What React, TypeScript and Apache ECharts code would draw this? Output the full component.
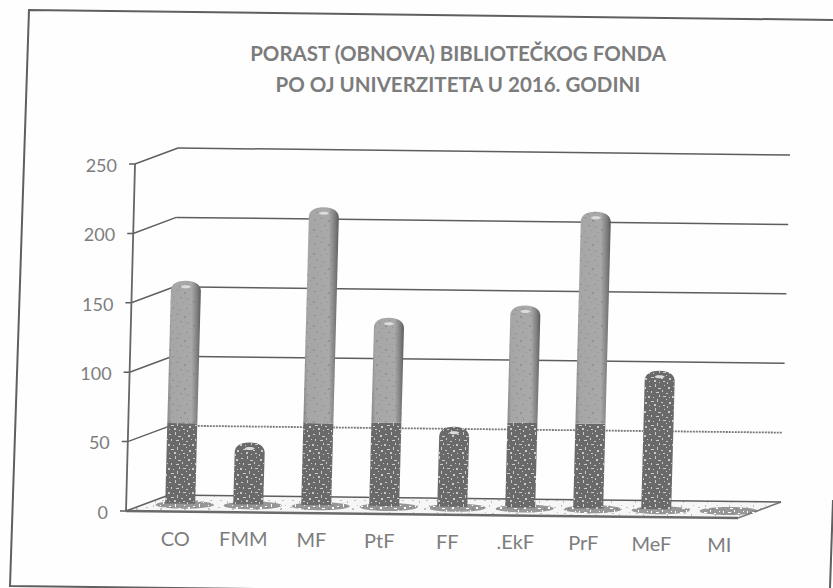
import React, { useEffect, useRef } from "react";
import * as echarts from "echarts";

const titleLines = ["PORAST (OBNOVA) BIBLIOTEČKOG FONDA", "PO OJ UNIVERZITETA U 2016. GODINI"];
const categories = ["CO", "FMM", "MF", "PtF", "FF", ".EkF", "PrF", "MeF", "MI"];
const darkValues = [58, 41, 59, 60, 54, 61, 61, 96, 0];
const lightValues = [99, 0, 152, 72, 0, 81, 149, 0, 0];
const yTicks = [0, 50, 100, 150, 200, 250];

const W = 833, H = 588;
const GL = 126, GR = 738, GT = 164, GB = 511;
const DX = 43, DY = -16;
const BAR_W = 30, CAP = 5, BAR_SHIFT = -1.5;
const INK = "#7d7d7d";
const FONT = "Lato, 'Open Sans', sans-serif";

// the scanned page is slightly skewed
const skew = (x: number, y: number): [number, number] => [x + (GB - y) * 0.026, y + (x - GL) * 0.0115];

const tile = (specks: string, color: string, size = 24) =>
  "data:image/svg+xml;utf8," +
  encodeURIComponent(
    `<svg xmlns="http://www.w3.org/2000/svg" width="${size}" height="${size}"><g fill="${color}">` +
      specks
        .trim()
        .split(/\s+/)
        .map((s) => {
          const [x, y, w, h] = s.split(",");
          return `<rect x="${x}" y="${y}" width="${w}" height="${h}"/>`;
        })
        .join("") +
      `</g></svg>`
  );
const DARK_SPECKS = "1,2,2,1 7,0,1,3 10,4,3,1 16,1,1,1 20,3,2,2 3,7,1,2 8,8,3,1 14,6,1,2 18,9,2,1 23,7,1,1 0,12,2,2 5,13,1,1 11,11,1,2 15,12,3,1 21,13,1,1 3,17,3,1 9,15,1,3 13,18,2,1 18,15,1,1 21,18,2,2 1,21,1,1 6,20,2,2 11,22,1,1 15,21,2,1 19,22,1,2";
const LIGHT_SPECKS = "2,3,2,1 9,1,1,2 16,4,2,2 21,1,1,1 5,8,1,1 12,9,2,1 19,10,1,2 1,13,2,2 8,15,1,1 15,14,1,1 22,16,1,1 4,20,2,1 11,21,1,2 18,20,2,1";
const darkTile = tile(DARK_SPECKS, "#e2e2e2");
const lightTile = tile(LIGHT_SPECKS, "#7e7e7e");
const floorTile = tile(LIGHT_SPECKS, "#8a8a8a");
const shadowTile = tile(DARK_SPECKS, "#ffffff");

function App() {
  const ref = useRef<HTMLDivElement>(null);
  useEffect(() => {
    document.body.style.margin = "0";
    const chart = echarts.init(ref.current!, undefined, { renderer: "svg" });

    const segment = (api: any, cat: number, low: number, high: number, rounded: boolean, kind: "dark" | "light") => {
      const base = api.coord([cat, low]);
      const top = api.coord([cat, high]);
      const cx = base[0] + DX / 2 + BAR_SHIFT;
      const ly = base[1] + DY / 2;
      const hy = top[1] + DY / 2;
      const bl = skew(cx - BAR_W / 2, ly);
      const br = skew(cx + BAR_W / 2, ly);
      const tl = skew(cx - BAR_W / 2, hy);
      const tr = skew(cx + BAR_W / 2, hy);
      const tc = skew(cx, hy);
      const d = rounded
        ? `M${bl[0]} ${bl[1]}L${tl[0]} ${tl[1] + CAP}C${tl[0]} ${tl[1]} ${tl[0] + 4} ${tc[1] - CAP} ${tc[0]} ${tc[1] - CAP}C${tr[0] - 4} ${tc[1] - CAP} ${tr[0]} ${tr[1]} ${tr[0]} ${tr[1] + CAP}L${br[0]} ${br[1]}Z`
        : `M${bl[0]} ${bl[1]}L${tl[0]} ${tl[1]}L${tr[0]} ${tr[1]}L${br[0]} ${br[1]}Z`;
      const fill =
        kind === "dark"
          ? "#6a6a6a"
          : new echarts.graphic.LinearGradient(0, 0, 1, 0, [
              { offset: 0, color: "#8a8a8a" },
              { offset: 0.12, color: "#a6a6a6" },
              { offset: 0.72, color: "#a9a9a9" },
              { offset: 0.9, color: "#7c7c7c" },
              { offset: 1, color: "#5a5a5a" },
            ]);
      const pathShape = { pathData: d };
      const children: any[] = [
        { type: "path", shape: pathShape, style: { fill } },
        {
          type: "path",
          shape: pathShape,
          style: {
            fill: { image: kind === "dark" ? darkTile : lightTile, repeat: "repeat", imageWidth: 24, imageHeight: 24 },
            opacity: kind === "dark" ? 0.8 : 0.5,
          },
        },
      ];
      if (rounded) {
        children.push({
          type: "ellipse",
          shape: { cx: tc[0], cy: tc[1] + 1, rx: 5, ry: 1.5 },
          style: { fill: "#dcdcdc" },
        });
      }
      return { type: "group", children };
    };

    const option: any = {
      animation: false,
      backgroundColor: "#fefefe",
      title: {
        text: titleLines.join("\n"),
        left: 453,
        top: 32,
        textAlign: "center",
        textStyle: { fontFamily: FONT, fontSize: 20.5, fontWeight: "bold", color: "#7c7c7c", lineHeight: 31 },
      },
      grid: { left: GL, top: GT, width: GR - GL, height: GB - GT },
      xAxis: {
        type: "category",
        data: categories,
        axisLine: { show: false },
        axisTick: { show: false },
        axisLabel: { show: false },
      },
      yAxis: {
        type: "value",
        min: 0,
        max: 250,
        interval: 50,
        axisLine: { show: false },
        axisTick: { show: false },
        axisLabel: { show: false },
        splitLine: { show: false },
      },
      graphic: [
        {
          type: "polyline",
          shape: { points: [[833, 20], [29, 10], [10, 586], [833, 596]] },
          style: { fill: "none", stroke: "#5f5f5f", lineWidth: 2 },
          silent: true,
        },
        {
          type: "line",
          shape: { x1: 833, y1: 500, x2: 830, y2: 588 },
          style: { stroke: "#5f5f5f", lineWidth: 2 },
          silent: true,
        },
      ],
      series: [
        {
          name: "floor",
          type: "custom",
          z: 1,
          silent: true,
          data: [[0, 0]],
          encode: { x: 0, y: 1 },
          renderItem: () => {
            const a = skew(GL, GB);
            const b = skew(GR, GB);
            const pts = [a, b, [b[0] + DX, b[1] + DY], [a[0] + DX, a[1] + DY]];
            return {
              type: "group",
              children: [
                { type: "polygon", shape: { points: pts }, style: { fill: "#f6f6f6" } },
                {
                  type: "polygon",
                  shape: { points: pts },
                  style: { fill: { image: floorTile, repeat: "repeat", imageWidth: 24, imageHeight: 24 }, opacity: 0.5 },
                },
                { type: "line", shape: { x1: a[0], y1: a[1], x2: b[0], y2: b[1] }, style: { stroke: "#6a6a6a", lineWidth: 2.5 } },
                { type: "line", shape: { x1: b[0], y1: b[1], x2: b[0] + DX, y2: b[1] + DY }, style: { stroke: "#777", lineWidth: 1.5 } },
              ],
            };
          },
        },
        {
          name: "walls",
          type: "custom",
          z: 2,
          silent: true,
          data: yTicks.map((t) => [0, t]),
          encode: { x: 0, y: 1 },
          renderItem: (_p: any, api: any) => {
            const v = api.value(1);
            const y = api.coord([0, v])[1];
            const a = skew(GL, y);
            const r = skew(GR, y);
            return {
              type: "group",
              children: [
                {
                  type: "polyline",
                  shape: { points: [[a[0] - 6, a[1]], a, [a[0] + DX, a[1] + DY]] },
                  style: { fill: "none", stroke: "#5e5e5e", lineWidth: 1.5 },
                },
                {
                  type: "line",
                  shape: { x1: a[0] + DX, y1: a[1] + DY, x2: r[0] + DX, y2: r[1] + DY },
                  style: v === 50 ? { stroke: "#777", lineWidth: 1.8, lineDash: [2, 1] } : { stroke: "#5e5e5e", lineWidth: 1.5 },
                },
              ],
            };
          },
        },
        {
          name: "axis",
          type: "custom",
          z: 3,
          silent: true,
          data: [[0, 0]],
          encode: { x: 0, y: 1 },
          renderItem: () => {
            const a = skew(GL, GB);
            const b = skew(GL, GT);
            return { type: "line", shape: { x1: a[0], y1: a[1], x2: b[0], y2: b[1] }, style: { stroke: "#666", lineWidth: 1.8 } };
          },
        },
        {
          name: "yLabels",
          type: "custom",
          z: 3,
          silent: true,
          data: yTicks.map((t) => [0, t]),
          encode: { x: 0, y: 1 },
          renderItem: (_p: any, api: any) => {
            const y = api.coord([0, api.value(1)])[1];
            const a = skew(GL - 18, y + 1);
            return {
              type: "text",
              style: { text: String(api.value(1)), x: a[0], y: a[1], align: "right", verticalAlign: "middle", fill: INK, font: `18px ${FONT}` },
            };
          },
        },
        {
          name: "xLabels",
          type: "custom",
          z: 3,
          silent: true,
          data: categories.map((_, i) => [i, 0]),
          encode: { x: 0, y: 1 },
          renderItem: (_p: any, api: any) => {
            const i = api.value(0);
            const c = api.coord([i, 0]);
            const a = skew(c[0] + 16, GB + 26);
            return {
              type: "text",
              style: { text: categories[i], x: a[0], y: a[1], align: "center", verticalAlign: "middle", fill: INK, font: `20px ${FONT}` },
            };
          },
        },
        {
          name: "shadow",
          type: "custom",
          z: 3,
          silent: true,
          data: categories.map((_, i) => [i, 0]),
          encode: { x: 0, y: 1 },
          renderItem: (_p: any, api: any) => {
            const c = api.coord([api.value(0), 0]);
            const p = skew(c[0] + DX / 2 + 3, c[1] + DY / 2 + 1);
            const shape = { cx: p[0], cy: p[1], rx: 29, ry: 4 };
            return {
              type: "group",
              children: [
                { type: "ellipse", shape, style: { fill: "#777", opacity: 0.75 } },
                { type: "ellipse", shape, style: { fill: { image: shadowTile, repeat: "repeat", imageWidth: 24, imageHeight: 24 } } },
              ],
            };
          },
        },
        {
          name: "dark",
          type: "custom",
          z: 4,
          silent: true,
          data: darkValues.map((v, i) => [i, v, lightValues[i]]),
          encode: { x: 0, y: 1 },
          renderItem: (_p: any, api: any) => {
            const v = api.value(1);
            if (!v) return { type: "group", children: [] };
            return segment(api, api.value(0), 0, v, !api.value(2), "dark");
          },
        },
        {
          name: "light",
          type: "custom",
          z: 4,
          silent: true,
          data: lightValues.map((v, i) => [i, darkValues[i] + v, darkValues[i]]),
          encode: { x: 0, y: 1 },
          renderItem: (_p: any, api: any) => {
            const total = api.value(1);
            const low = api.value(2);
            if (total === low) return { type: "group", children: [] };
            return segment(api, api.value(0), low, total, true, "light");
          },
        },
      ],
    };
    chart.setOption(option);
    return () => chart.dispose();
  }, []);
  return <div ref={ref} style={{ width: W, height: H }} />;
}

export default App;
